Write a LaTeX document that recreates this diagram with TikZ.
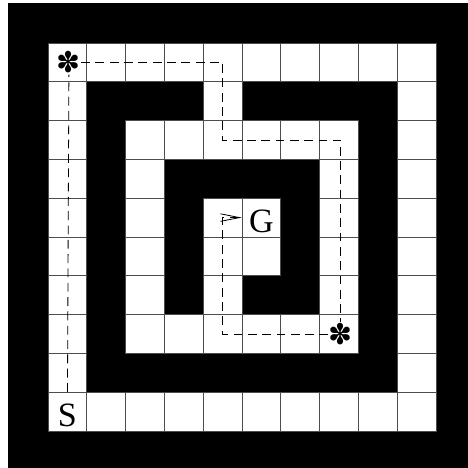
\documentclass[tikz,border=0pt]{standalone}
\usepackage{fontspec}
\setmainfont{Liberation Serif}
\newfontfamily\symfont{DejaVu Sans}
\usetikzlibrary{arrows.meta}
\begin{document}
\begin{tikzpicture}[
  cellbox/.style={fill=white, draw=black!70, line width=0.7pt},
  wall/.style={fill=black},
  route/.style={draw=black, line width=0.6pt, dash pattern=on 6.5pt off 4pt},
  letter/.style={font=\fontsize{25}{25}\selectfont, inner sep=0pt, minimum size=1cm},
  starnode/.style={circle, inner sep=0pt, minimum size=0.56cm, font=\symfont\fontsize{21}{21}\selectfont}
]
\useasboundingbox (-1.237,-0.954) rectangle (10.825,11.108);
\fill[white] (-1.237,-0.954) rectangle (10.825,11.108);
\fill[wall] (-1.031,-0.954) rectangle (10.825,11.03);
\foreach \r/\cols in {0/{0,1,2,3,4,5,6,7,8,9},
                      1/{0,4,9},
                      2/{0,2,3,4,5,6,7,9},
                      3/{0,2,7,9},
                      4/{0,2,4,5,7,9},
                      5/{0,2,4,5,7,9},
                      6/{0,2,4,7,9},
                      7/{0,2,3,4,5,6,7,9},
                      8/{0,9},
                      9/{0,1,2,3,4,5,6,7,8,9}}{
  \foreach \c in \cols {
    \draw[cellbox] (\c,9-\r) rectangle ++(1,1);
  }
}
\node[letter] (S) at (0.5,0.5) {\smash{\raisebox{-11pt}{S}}};
\node[letter] (G) at (5.5,5.5) {\smash{\raisebox{-11pt}{G}}};
\node[starnode] (A) at (0.54,9.5) {\smash{\raisebox{-0.36em}{✽}}};
\node[starnode] (B) at (7.54,2.5) {\smash{\raisebox{-0.36em}{✽}}};
\coordinate (p2) at (4.5,7.5);
\coordinate (p5) at (4.5,5.5);
\draw[route] (S) -- (A);
\draw[route] (A) -| (p2) -| (B);
\draw[route, -{Straight Barb[length=14pt,width=5.5pt,line width=0.6pt]}] (B) -| (p5) -- (G);
\end{tikzpicture}
\end{document}
